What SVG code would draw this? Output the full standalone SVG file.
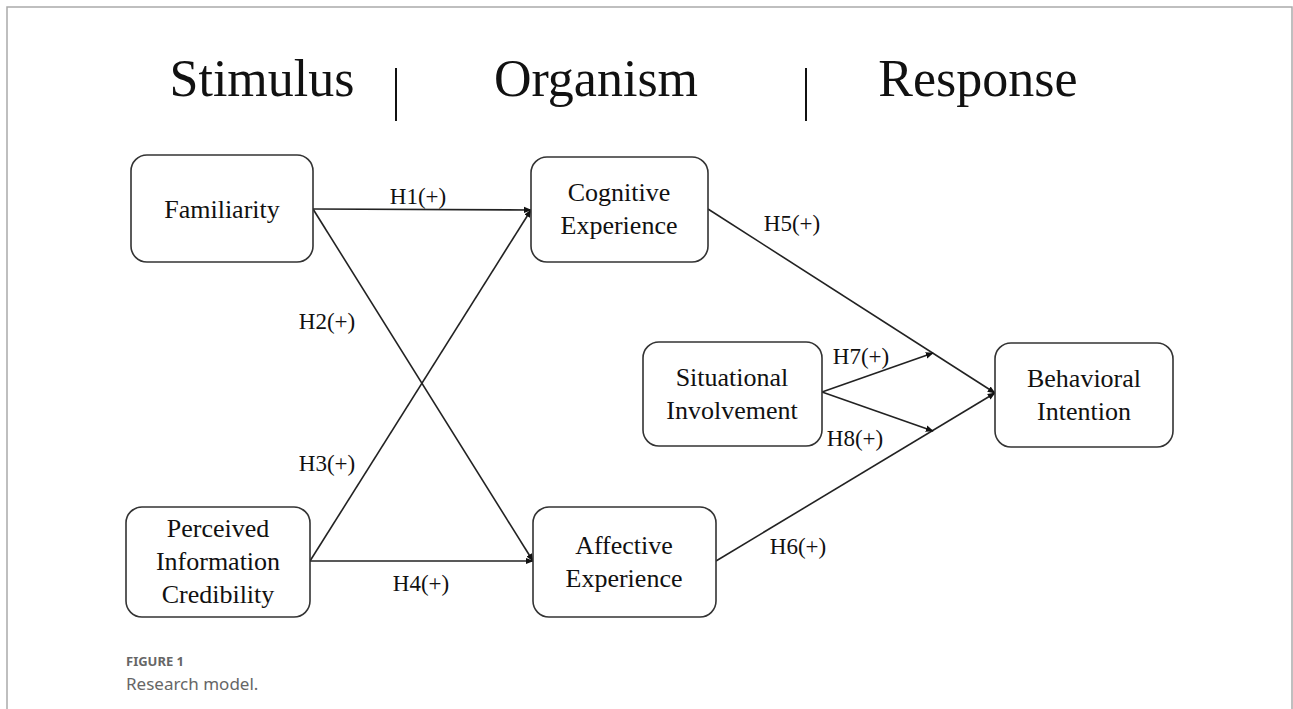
<svg xmlns="http://www.w3.org/2000/svg" width="1293" height="709" viewBox="0 0 1293 709">
<defs>
<marker id="arr" viewBox="0 0 10 10" refX="9" refY="5" markerWidth="8" markerHeight="8" markerUnits="userSpaceOnUse" orient="auto">
<path d="M0,1 L10,5 L0,9 z" fill="#111"/>
</marker>
<style>
.box{fill:#fff;stroke:#333;stroke-width:1.6}
.nt{font-family:"Liberation Serif","Times New Roman",serif;font-size:26px;fill:#111;text-anchor:middle}
.lb{font-family:"Liberation Serif","Times New Roman",serif;font-size:23px;fill:#111;text-anchor:middle}
.hd{font-family:"Liberation Serif","Times New Roman",serif;font-size:52px;fill:#111;text-anchor:middle}
.cn{stroke:#222;stroke-width:1.6;fill:none}
.fr{stroke:#aaa;stroke-width:1.5;fill:none}
</style>
</defs>
<rect width="1293" height="709" fill="#fff"/>
<path class="fr" d="M7,709 V7 H1292 V709"/>
<g id="header">
<text class="hd" x="262" y="96">Stimulus</text>
<text class="hd" x="596" y="96">Organism</text>
<text class="hd" x="978" y="96">Response</text>
<line x1="396" y1="68" x2="396" y2="121" stroke="#111" stroke-width="2"/>
<line x1="806" y1="68" x2="806" y2="121" stroke="#111" stroke-width="2"/>
</g>
<g id="connectors">
<line class="cn" x1="313" y1="209" x2="531" y2="210" marker-end="url(#arr)"/>
<line class="cn" x1="313" y1="209" x2="533" y2="561" marker-end="url(#arr)"/>
<line class="cn" x1="310" y1="561" x2="531" y2="210" marker-end="url(#arr)"/>
<line class="cn" x1="310" y1="561" x2="533" y2="561" marker-end="url(#arr)"/>
<line class="cn" x1="708" y1="209" x2="995" y2="393" marker-end="url(#arr)"/>
<line class="cn" x1="716" y1="561" x2="995" y2="393" marker-end="url(#arr)"/>
<line class="cn" x1="822" y1="392" x2="933" y2="353" marker-end="url(#arr)"/>
<line class="cn" x1="822" y1="392" x2="933" y2="431" marker-end="url(#arr)"/>
<text class="lb" x="418" y="204">H1(+)</text>
<text class="lb" x="327" y="329">H2(+)</text>
<text class="lb" x="327" y="471">H3(+)</text>
<text class="lb" x="421" y="591">H4(+)</text>
<text class="lb" x="792" y="231">H5(+)</text>
<text class="lb" x="798" y="554">H6(+)</text>
<text class="lb" x="861" y="364">H7(+)</text>
<text class="lb" x="855" y="446">H8(+)</text>
</g>
<g id="familiarity">
<rect class="box" x="131" y="155" width="182" height="107" rx="16"/>
<text class="nt" x="222" y="218">Familiarity</text>
</g>
<g id="cognitive">
<rect class="box" x="531" y="157" width="177" height="105" rx="16"/>
<text class="nt" x="619" y="201">Cognitive</text>
<text class="nt" x="619" y="234">Experience</text>
</g>
<g id="perceived">
<rect class="box" x="126" y="507" width="184" height="110" rx="16"/>
<text class="nt" x="218" y="537">Perceived</text>
<text class="nt" x="218" y="570">Information</text>
<text class="nt" x="218" y="603">Credibility</text>
</g>
<g id="affective">
<rect class="box" x="533" y="507" width="183" height="110" rx="16"/>
<text class="nt" x="624" y="554">Affective</text>
<text class="nt" x="624" y="587">Experience</text>
</g>
<g id="situational">
<rect class="box" x="643" y="342" width="179" height="104" rx="16"/>
<text class="nt" x="732" y="386">Situational</text>
<text class="nt" x="732" y="419">Involvement</text>
</g>
<g id="behavioral">
<rect class="box" x="995" y="343" width="178" height="104" rx="16"/>
<text class="nt" x="1084" y="387">Behavioral</text>
<text class="nt" x="1084" y="420">Intention</text>
</g>
<g id="caption">
<text x="126" y="666" font-family="'Noto Sans','Open Sans',sans-serif" font-size="13" font-weight="bold" fill="#666">FIGURE 1</text>
<text x="126" y="690" font-family="'Noto Sans','Open Sans',sans-serif" font-size="17" fill="#666">Research model.</text>
</g>
</svg>
